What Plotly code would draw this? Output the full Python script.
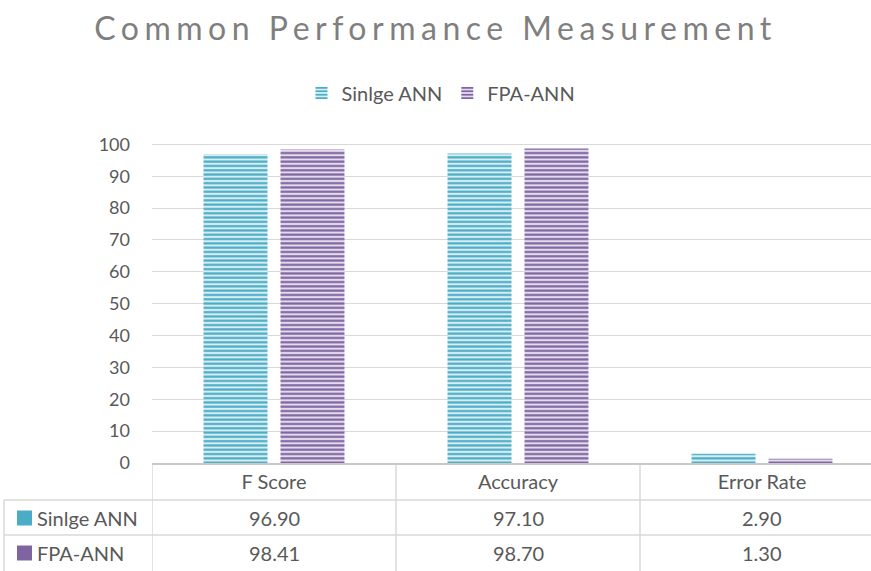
import plotly.graph_objects as go

categories = ["F Score", "Accuracy", "Error Rate"]
series_names = ["Sinlge ANN", "FPA-ANN"]
single_ann = [96.90, 97.10, 2.90]
fpa_ann = [98.41, 98.70, 1.30]
y_ticks = list(range(0, 101, 10))

teal = "#4BACC6"
teal_light = "#d6eef4"
purple = "#8064A2"
purple_light = "#e2dbec"
gray_text = "#595959"
title_gray = "#7f7f7f"
grid = "#d9d9d9"
FONT = "Lato"

W, H = 871, 571
L, R, T, B = 152, 0, 138, 108
plot_h = H - T - B


def py(px):
    return (H - B - px) / plot_h


def pxp(px):
    return (px - L) / (W - L - R)


fig = go.Figure()
series = [(series_names[0], single_ann, teal, teal_light),
          (series_names[1], fpa_ann, purple, purple_light)]
for name, vals, c, lc in series:
    fig.add_trace(go.Bar(
        x=categories, y=vals, name=name,
        marker=dict(color=c, line=dict(width=0),
                    pattern=dict(shape="-", fillmode="replace", fgcolor=c,
                                 bgcolor=lc, size=4.3, solidity=0.5)),
    ))

fig.update_layout(
    width=W, height=H,
    margin=dict(l=L, r=R, t=T, b=B),
    paper_bgcolor="white", plot_bgcolor="white",
    barmode="group", bargap=0.369, bargroupgap=0.169,
    font=dict(family=FONT, color=gray_text, size=16),
    title=dict(text="Common Performance Measurement", x=0.5, xref="container",
               y=1 - 29 / H, yref="container", xanchor="center", yanchor="middle",
               font=dict(size=32, color=title_gray, family=FONT)),
    legend=dict(orientation="h", x=pxp(441), y=py(93), xanchor="center",
                yanchor="middle", font=dict(size=20, color=gray_text),
                itemwidth=30),
    showlegend=True,
)
fig.update_xaxes(range=[-0.5, 2.5 - 13 / 244], showgrid=False, showline=True,
                 linecolor="#c8c8c8", linewidth=2, ticks="",
                 tickfont=dict(size=20, color=gray_text), ticklabelstandoff=0,
                 fixedrange=True)
fig.update_yaxes(range=[0, 102], tickvals=y_ticks, showgrid=True, gridcolor=grid,
                 gridwidth=1.3, zeroline=False, showline=False, ticks="",
                 tickfont=dict(size=18, color=gray_text), ticklabelstandoff=21)

line = dict(color=grid, width=1.5)
# table grid
for xv in [-0.5, 0.5, 1.5]:
    fig.add_shape(type="line", xref="x", yref="paper", x0=xv, x1=xv,
                  y0=py(465), y1=py(575), line=line)
for ypx in [500, 535]:
    fig.add_shape(type="line", xref="paper", yref="paper", x0=pxp(4), x1=1,
                  y0=py(ypx), y1=py(ypx), line=line)
fig.add_shape(type="line", xref="paper", yref="paper", x0=pxp(4), x1=pxp(4),
              y0=py(500), y1=py(575), line=line)

row_centers = [518, 553]
for (name, vals, c, lc), yc in zip(series, row_centers):
    fig.add_shape(type="rect", xref="paper", yref="paper", x0=pxp(17), x1=pxp(32),
                  y0=py(yc + 7.5), y1=py(yc - 7.5), fillcolor=c, line=dict(width=0))
    fig.add_annotation(text=name, xref="paper", yref="paper", x=pxp(35), y=py(yc),
                       xanchor="left", yanchor="middle", showarrow=False,
                       font=dict(size=20, color=gray_text))
    for cat, v in zip(categories, vals):
        fig.add_annotation(text=f"{v:.2f}", xref="x", yref="paper", x=cat, y=py(yc),
                           xanchor="center", yanchor="middle", showarrow=False,
                           font=dict(size=20, color=gray_text))

post = """
document.body.style.margin='0';
document.body.style.overflow='hidden';
document.querySelectorAll('.gtitle').forEach(function(e){e.style.letterSpacing='5.5px';});
"""
fig.write_html("out.html", post_script=post, config={"displayModeBar": False})
